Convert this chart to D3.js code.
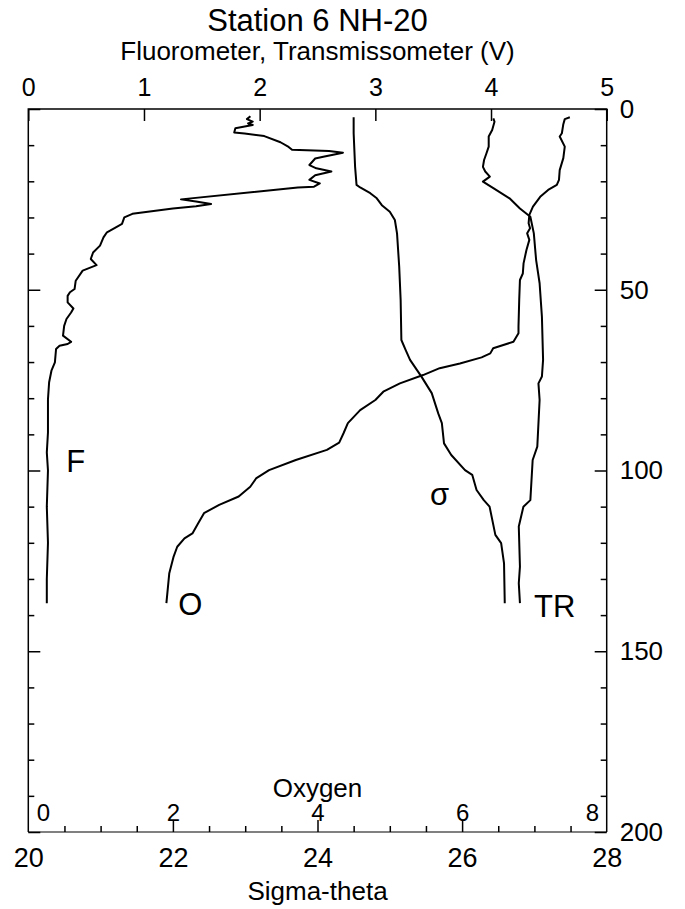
<!DOCTYPE html>
<html><head><meta charset="utf-8">
<script src="https://cdn.jsdelivr.net/npm/d3@7"></script>
<style>
body{margin:0;background:#fff}
svg{display:block}
text{font-family:"Liberation Sans",Arial,Helvetica,sans-serif;fill:#000}
</style>
</head><body>
<svg id="chart" width="685" height="909"></svg>
<script>
// ---- data (depth m, value) ----
const fluorometer = [[2.0,1.92],[2.8,1.89],[3.5,1.94],[4.0,1.90],[4.4,1.94],[5.3,1.79],[6.5,1.78],[6.8,1.87],[7.5,2.04],[9.2,2.18],[10.5,2.25],[11.3,2.28],[11.6,2.60],[12.1,2.72],[13.2,2.55],[13.7,2.48],[15.5,2.43],[16.4,2.49],[17.3,2.62],[18.3,2.48],[19.6,2.43],[20.6,2.52],[21.5,2.47],[21.7,2.33],[25.0,1.32],[25.6,1.45],[26.3,1.58],[26.9,1.45],[27.5,1.25],[29.0,0.90],[30.0,0.83],[31.8,0.81],[32.3,0.78],[34.1,0.68],[35.5,0.65],[37.8,0.62],[39.7,0.56],[41.5,0.54],[43.2,0.59],[44.7,0.47],[47.5,0.41],[49.8,0.40],[50.7,0.36],[51.7,0.34],[53.5,0.34],[55.2,0.39],[56.3,0.37],[58.1,0.33],[60.0,0.31],[62.7,0.30],[64.4,0.37],[65.0,0.34],[65.5,0.27],[66.4,0.24],[70.1,0.23],[72.4,0.20],[75.6,0.18],[80.3,0.17],[89.5,0.17],[95,0.16],[100,0.17],[110,0.16],[120,0.17],[130,0.16],[136.7,0.16]];
const transmissometer = [[2.6,4.02],[3.5,4.03],[5.8,4.01],[7.6,3.98],[10.4,3.98],[12.3,3.96],[14.1,3.94],[16,3.93],[17.3,3.95],[18.7,3.99],[20.1,3.93],[21.9,4.02],[24.7,4.16],[27.5,4.25],[29.8,4.34],[34.4,4.37],[41.8,4.39],[48.2,4.42],[57.5,4.44],[69.4,4.45],[74,4.44],[75.9,4.41],[80.5,4.42],[93.4,4.40],[97.1,4.36],[108.2,4.34],[110,4.28],[115.5,4.24],[126.6,4.25],[131.2,4.24],[136.7,4.25]];
const oxygen = [[2.3,7.49],[2.8,7.42],[4.2,7.40],[6.7,7.38],[7.6,7.35],[10.4,7.42],[13.6,7.40],[16.9,7.35],[19.6,7.34],[21,7.31],[22.4,7.19],[24.3,7.08],[27,6.98],[29.3,6.93],[31.6,6.92],[33,6.94],[34.4,6.90],[36.2,6.93],[39,6.89],[42.7,6.85],[45.5,6.84],[47.3,6.80],[52.8,6.79],[60.2,6.78],[62,6.78],[64.4,6.71],[66.2,6.43],[67.6,6.39],[68.7,6.27],[70.4,5.97],[71.7,5.69],[73.6,5.46],[75.9,5.14],[78.2,4.91],[80.5,4.80],[83.3,4.59],[86.9,4.42],[89.7,4.36],[92.3,4.30],[94.3,4.13],[97.1,3.70],[99.9,3.33],[102.2,3.15],[104.5,3.07],[107.2,2.91],[109.5,2.64],[111.8,2.43],[114.6,2.35],[117.4,2.27],[118.8,2.16],[121.1,2.06],[123.8,2.01],[128.4,1.95],[136.7,1.91]];
const sigmaTheta = [[2.3,24.50],[6.7,24.50],[16,24.52],[21,24.54],[21.7,24.59],[23.3,24.73],[24.7,24.82],[26.6,24.89],[28.4,25.00],[30.7,25.07],[34.4,25.10],[43.6,25.13],[52.8,25.15],[63.9,25.16],[66.7,25.22],[69.4,25.28],[74.1,25.44],[78.6,25.58],[84.2,25.67],[86.9,25.72],[92.5,25.75],[95.7,25.85],[99.9,26.04],[101.2,26.14],[105.4,26.20],[108.2,26.30],[110,26.38],[117.8,26.46],[120.1,26.54],[125.7,26.58],[136.7,26.59]];

const voltTicks = [0,1,2,3,4,5];
const sigmaTicks = [20,22,24,26,28];
const oxygenTicks = [0,2,4,6,8];
const depthTicks = [0,50,100,150,200];
const title = "Station 6 NH-20";
const topTitle = "Fluorometer, Transmissometer (V)";
const oxyTitle = "Oxygen";
const bottomTitle = "Sigma-theta";

// ---- layout ----
const L = 28.3, R = 606.7, T = 109, B = 832;
const svg = d3.select("#chart");
const xV = d3.scaleLinear().domain([0,5]).range([L,R]);
const xS = d3.scaleLinear().domain([20,28]).range([L,R]);
const xO = d3.scaleLinear().domain([0,8]).range([L,R]);
const y = d3.scaleLinear().domain([0,200]).range([T,B]);

// bottom gray baseline
svg.append("line").attr("x1",L).attr("x2",R).attr("y1",B).attr("y2",B)
  .attr("stroke","#808080").attr("stroke-width",2);
// frame
svg.append("path").attr("d",`M${L},${B}V${T}H${R}V${B}`).attr("fill","none")
  .attr("stroke","#000").attr("stroke-width",1.5);

function styleAxis(g, fs){
  g.select(".domain").remove();
  g.selectAll(".tick line").attr("stroke","#000").attr("stroke-width",1.5);
  g.selectAll("text").attr("font-size",fs).attr("font-family",'"Liberation Sans",Arial,sans-serif').attr("fill","#000");
}

// top axis (volts)
const gTop = svg.append("g").attr("transform",`translate(0,${T})`)
  .call(d3.axisTop(xV).tickValues(voltTicks).tickSizeInner(-12).tickSizeOuter(0).tickPadding(13).tickFormat(d3.format("d")));
styleAxis(gTop, 25);

// right axis (depth)
const depthMinor = d3.range(0,201,10).filter(d=>!depthTicks.includes(d));
const gR = svg.append("g").attr("transform",`translate(${R},0)`)
  .call(d3.axisRight(y).tickValues(depthTicks).tickSizeInner(-12).tickSizeOuter(0).tickPadding(13).tickFormat(d3.format("d")));
styleAxis(gR, 26);
const gR2 = svg.append("g").attr("transform",`translate(${R},0)`)
  .call(d3.axisRight(y).tickValues(depthMinor).tickSizeInner(-6).tickSizeOuter(0).tickFormat(""));
styleAxis(gR2, 26);
// left axis ticks
const gL = svg.append("g").attr("transform",`translate(${L},0)`)
  .call(d3.axisLeft(y).tickValues(depthTicks).tickSizeInner(-12).tickSizeOuter(0).tickFormat(""));
styleAxis(gL, 26);
const gL2 = svg.append("g").attr("transform",`translate(${L},0)`)
  .call(d3.axisLeft(y).tickValues(depthMinor).tickSizeInner(-6).tickSizeOuter(0).tickFormat(""));
styleAxis(gL2, 26);

// bottom sigma axis
const sigmaMinor = d3.range(20.5,28,0.5).filter(d=>!sigmaTicks.includes(d));
const gB2 = svg.append("g").attr("transform",`translate(0,${B})`)
  .call(d3.axisBottom(xS).tickValues(sigmaMinor).tickSizeInner(-6).tickSizeOuter(0).tickFormat(""));
styleAxis(gB2, 26);
const gB = svg.append("g").attr("transform",`translate(0,${B})`)
  .call(d3.axisBottom(xS).tickValues(sigmaTicks).tickSizeInner(-12).tickSizeOuter(0).tickPadding(16).tickFormat(d3.format("d")));
styleAxis(gB, 27);
gB.selectAll(".tick").filter(d=>d===20||d===28).select("line").remove();

// oxygen labels (inside the frame, just above the bottom axis)
const gO = svg.append("g").attr("transform",`translate(0,${B})`)
  .call(d3.axisBottom(xO).tickValues(oxygenTicks).tickSize(0).tickPadding(0).tickFormat(d3.format("d")));
styleAxis(gO, 24);
gO.selectAll(".tick text").attr("dy",null).attr("y",-11.5)
  .attr("text-anchor",d=>d===0?"start":(d===8?"end":"middle"))
  .attr("x",d=>d===0?8:(d===8?-8:0));

// titles
const cx = (L+R)/2;
svg.append("text").attr("x",cx).attr("y",31).attr("text-anchor","middle").attr("font-size",31).text(title);
svg.append("text").attr("x",cx).attr("y",59.5).attr("text-anchor","middle").attr("font-size",26).text(topTitle);
svg.append("text").attr("x",cx).attr("y",797).attr("text-anchor","middle").attr("font-size",26).text(oxyTitle);
svg.append("text").attr("x",cx).attr("y",900).attr("text-anchor","middle").attr("font-size",26).text(bottomTitle);

// curves
const lineV = d3.line().x(d=>xV(d[1])).y(d=>y(d[0]));
const lineS = d3.line().x(d=>xS(d[1])).y(d=>y(d[0]));
const lineO = d3.line().x(d=>xO(d[1])).y(d=>y(d[0]));
const curves = svg.append("g").attr("fill","none").attr("stroke","#000").attr("stroke-width",2).attr("stroke-linejoin","round");
curves.append("path").attr("d",lineV(fluorometer));
curves.append("path").attr("d",lineV(transmissometer));
curves.append("path").attr("d",lineO(oxygen));
curves.append("path").attr("d",lineS(sigmaTheta));

// curve labels
const lab = (x,yy,t)=>svg.append("text").attr("x",x).attr("y",yy).attr("text-anchor","middle").attr("font-size",31).text(t);
lab(xV(0.41), y(97.3)+11, "F");
lab(xO(2.24), y(137)+11, "O");
lab(xS(25.69), y(107.5)+7, "σ");
lab(xV(4.55), y(137.5)+11, "TR");
</script>
</body></html>
